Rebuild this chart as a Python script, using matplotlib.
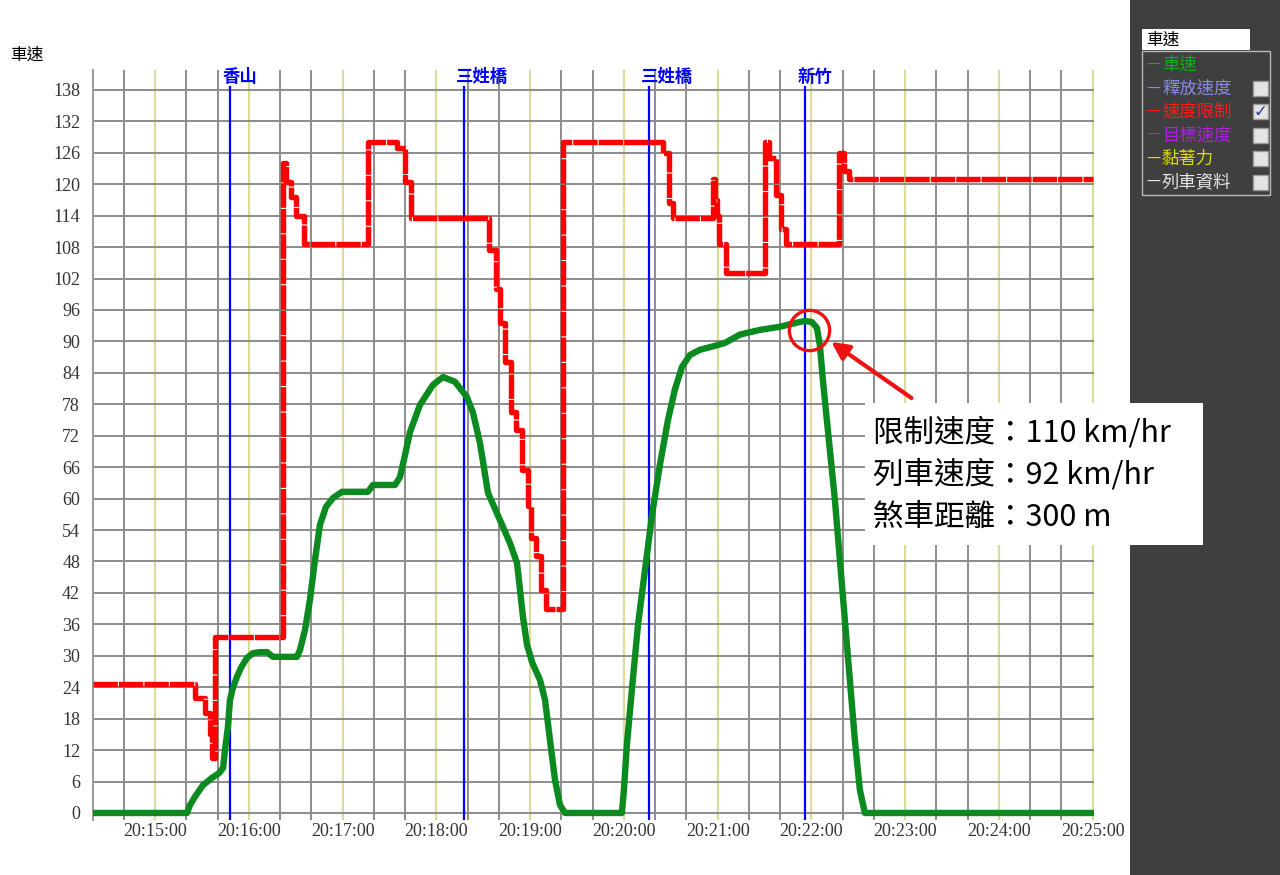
import matplotlib
matplotlib.use("Agg")
import matplotlib.pyplot as plt
from matplotlib.patches import Rectangle
from matplotlib.ticker import FixedLocator, MultipleLocator, NullFormatter

plt.rcParams["font.family"] = ["Noto Sans CJK TC", "DejaVu Sans"]

# ── Data ─────────────────────────────────────────────────────────────────────
# times are seconds after T0 (left edge of the time axis)

T0 = "20:14:20"
T_END = 640

# speed limit (step line: each value holds until the next time)
red_t = [0, 65.6, 72, 75.3, 76.5, 78.5, 122, 124, 127, 130.4, 135, 176, 195,
         200, 203.5, 253.5, 258, 261, 264, 267.5, 271, 275, 278.5, 280.5,
         283.5, 287, 290, 301, 365, 369, 371.5, 397, 398.4, 399.6, 401, 405.4,
         430, 433, 437.4, 440.6, 443.8, 477.8, 481, 484, 640]
red_v = [24.6, 22, 19, 15, 10.5, 33.5, 124, 120.5, 117.5, 114, 108.5, 128, 127,
         120.5, 113.5, 107.5, 100, 93.5, 86, 76.5, 73, 65.5, 58.5, 52.5,
         49, 42.5, 39, 128, 126, 116.5, 113.5, 121, 117, 114, 108.5, 103,
         128, 125, 118, 111.5, 108.5, 126, 122.5, 121, 121]

# train speed
green_t = [0, 60.4, 62.3, 65.5, 70.6, 76.4, 80.9, 83.5, 84.7, 86.6, 87.9, 89.8,
           92.4, 94.9, 98.8, 102.6, 107.1, 111.6, 115.4, 130.8, 132.7, 135.9,
           139.1, 142.3, 145.5, 149.3, 153.8, 159.6, 176.2, 179.4, 193.5, 196.7,
           199.9, 203.1, 209.5, 217.8, 224.2, 231.9, 239.5, 243.4, 247.9, 253,
           260.7, 267.1, 271.6, 273.5, 275.4, 278, 281.2, 286.3, 289.5, 292.7,
           295.9, 299.1, 302.3, 338.7, 340, 341.9, 345.1, 349, 353.5, 358,
           363, 368.2, 372.6, 377.1, 382.2, 388.6, 396.3, 404.6, 414.2, 427,
           439.8, 449.4, 455.8, 460.3, 463.5, 465.4, 467.3, 470.5, 475, 481.4,
           487.8, 491, 494.2, 640]
green_v = [0, 0, 1.5, 3.1, 5.3, 6.7, 7.6, 8.6, 12, 16.4, 21.6, 23.9,
           26, 27.7, 29.6, 30.5, 30.7, 30.7, 29.8, 29.8, 31.1, 34.9,
           40.7, 48.3, 55, 58.4, 60.1, 61.3, 61.3, 62.6, 62.6, 64.1,
           68.3, 72.7, 77.9, 81.7, 83.2, 82.3, 79.4, 76.4, 70.6, 61.1,
           55.9, 51.5, 47.7, 42.6, 37.4, 32.1, 28.8, 25.4, 21.6, 13.9,
           6.3, 1.5, 0, 0, 4.4, 13, 23.5, 35.9, 46.4, 56.9,
           66.4, 75, 80.8, 85.1, 87.4, 88.4, 89, 89.7, 91.3, 92.2,
           92.8, 93.5, 93.9, 93.7, 92.6, 89.3, 82.7, 73.1, 59.8, 36.8,
           13.9, 4.4, 0, 0]

station_names = ["香山", "三姓橋", "三姓橋", "新竹"]
station_t = [88, 237.4, 356, 456]

y_ticks = list(range(0, 139, 6))
x_labels = ["20:15:00", "20:16:00", "20:17:00", "20:18:00", "20:19:00", "20:20:00",
            "20:21:00", "20:22:00", "20:23:00", "20:24:00", "20:25:00"]

legend_labels = ["車速", "釋放速度", "速度限制", "目標速度", "黏著力", "列車資料"]
legend_colors = ["#10b010", "#8a8ae6", "#ff1a1a", "#b020e0", "#dcdc00", "#e6e6e6"]
legend_checked = [None, False, True, False, False, False]

note_lines = ["限制速度：110 km/hr", "列車速度：92 km/hr", "煞車距離：300 m"]
circle_t, circle_v = 458.6, 92.2
arrow_from = (524, 79.2)
arrow_to = (472.7, 89.9)


def to_sec(s):
    h, m, x = map(int, s.split(":"))
    h0, m0, x0 = map(int, T0.split(":"))
    return (h * 3600 + m * 60 + x) - (h0 * 3600 + m0 * 60 + x0)


# ── Figure ───────────────────────────────────────────────────────────────────

W, H = 1280, 875
fig = plt.figure(figsize=(W / 100, H / 100), dpi=100, facecolor="white")
ax = fig.add_axes([92.6 / W, 1 - 820 / H, (1093.5 - 92.6) / W, 750 / H])

ax.set_xlim(0, T_END + 0.5)
ax.set_ylim(-1.34, 141.8)

# grid: gray every 20 s, pale yellow on the minute, gray every 6 km/h
x_major = [to_sec(s) for s in x_labels]
ax.xaxis.set_major_locator(FixedLocator(x_major))
ax.xaxis.set_minor_locator(MultipleLocator(20))
ax.xaxis.set_minor_formatter(NullFormatter())
ax.set_xticklabels(x_labels)
ax.set_yticks(y_ticks)
ax.set_yticklabels([str(v) for v in y_ticks])

ax.grid(True, which="minor", axis="x", color="#8c8c8c", lw=1.4)
ax.grid(True, which="major", axis="x", color="#dcdc9a", lw=1.6)
ax.grid(True, which="major", axis="y", color="#8c8c8c", lw=1.4)
ax.set_axisbelow(True)

for side in ["top", "right", "bottom"]:
    ax.spines[side].set_visible(False)
ax.spines["left"].set_color("#9a9a9a")
ax.spines["left"].set_linewidth(1.4)

ax.tick_params(axis="both", which="both", length=0)
ax.tick_params(axis="y", pad=9)
ax.tick_params(axis="x", pad=2)
for lab in ax.get_xticklabels() + ax.get_yticklabels():
    lab.set_fontfamily("Liberation Serif")
    lab.set_fontsize(13)
    lab.set_color("#333333")

# station lines
for name, t in zip(station_names, station_t):
    ax.plot([t, t], [-1.34, 138.6], color="#0000ff", lw=1.6, zorder=2)
    ax.text(t - 5, 140.4, name, color="#0000ff", fontsize=12.5, fontweight="bold",
            ha="left", va="center", clip_on=False)

# series
ax.plot(red_t, red_v, drawstyle="steps-post", color="#ff0000", lw=3.9,
        ls=(0, (4.5, 0.2)), zorder=3)
ax.plot(green_t, green_v, color="#0b8a1f", lw=4.6, zorder=4,
        solid_joinstyle="round", solid_capstyle="round")

# highlight circle + arrow
ax.plot([circle_t], [circle_v], "o", ms=29, mfc="none", mec="#ee1111",
        mew=2.4, zorder=5)
ax.annotate("", xy=arrow_to, xytext=arrow_from,
            arrowprops=dict(arrowstyle="-|>", color="#ee1111", lw=3,
                            mutation_scale=26, shrinkA=0, shrinkB=0),
            zorder=5)

fig.text(10 / W, 1 - 55 / H, "車速", fontsize=12, va="center", ha="left")

# ── Right control panel ──────────────────────────────────────────────────────

fig.add_artist(Rectangle((1130 / W, 0), 150 / W, 1, transform=fig.transFigure,
                         facecolor="#3f3f3f", edgecolor="none", zorder=1))
fig.add_artist(Rectangle((1142 / W, 1 - 50 / H), 108 / W, 21 / H,
                         transform=fig.transFigure, facecolor="white",
                         edgecolor="none", zorder=2))
fig.text(1146 / W, 1 - 40 / H, "車速", fontsize=12, va="center", ha="left",
         color="black", zorder=3)
fig.add_artist(Rectangle((1142 / W, 1 - 195 / H), 128 / W, 144 / H,
                         transform=fig.transFigure, facecolor="none",
                         edgecolor="#b8b8b8", lw=1, zorder=2))

for i, (lab, col, chk) in enumerate(zip(legend_labels, legend_colors, legend_checked)):
    yy = 1 - (65 + 23.4 * i) / H
    fig.text(1146 / W, yy, "一", fontsize=10, color=col, va="center", ha="left", zorder=3)
    fig.text(1162 / W, yy, lab, fontsize=12.5, color=col, va="center", ha="left", zorder=3)
    if chk is not None:
        fig.add_artist(Rectangle((1253 / W, yy - 7.5 / H), 15 / W, 15 / H,
                                 transform=fig.transFigure, facecolor="#e4e4e4",
                                 edgecolor="#9a9a9a", lw=1, zorder=3))
        if chk:
            fig.text(1260.5 / W, yy, "✓", fontsize=12, color="#2a3f9a",
                     family="DejaVu Sans", va="center", ha="center", zorder=4)

# ── Note box ─────────────────────────────────────────────────────────────────

fig.add_artist(Rectangle((865 / W, 1 - 545 / H), 338 / W, 142 / H,
                         transform=fig.transFigure, facecolor="white",
                         edgecolor="none", zorder=10))
for i, line in enumerate(note_lines):
    fig.text(873 / W, 1 - (433 + 42 * i) / H, line, fontsize=22, color="black",
             va="center", ha="left", zorder=11)

fig.savefig("out.png", dpi=100, facecolor="white")
